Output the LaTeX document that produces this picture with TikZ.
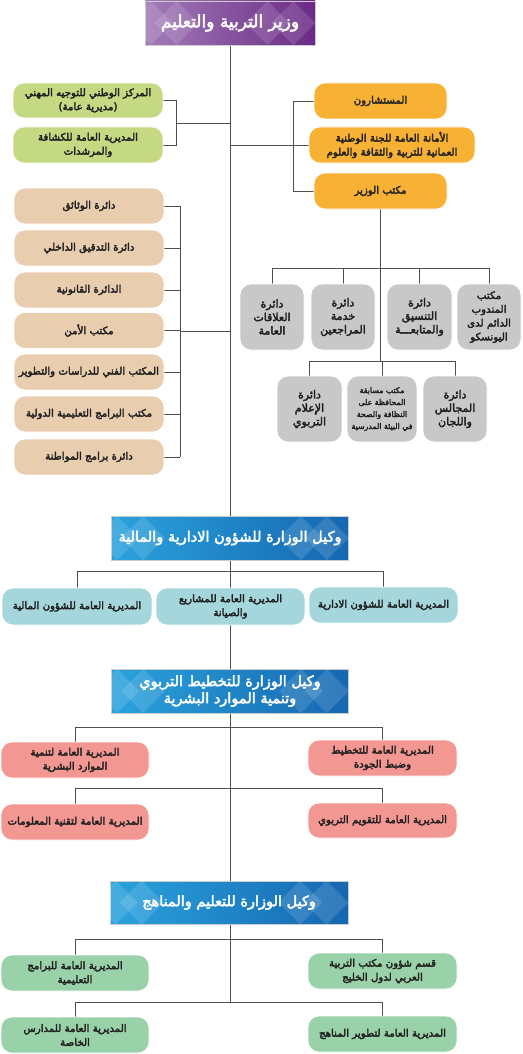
\documentclass[tikz,border=0pt]{standalone}
\usepackage{fontspec}
\newfontfamily\arfont[Script=Arabic,FakeBold=3]{DejaVu Sans}
\TeXXeTstate=1
\usetikzlibrary{calc}
\definecolor{linec}{HTML}{4F4F4F}
\definecolor{purL}{HTML}{A27CB8}
\definecolor{purR}{HTML}{6B2A86}
\definecolor{bluL}{HTML}{2AA2DC}
\definecolor{bluR}{HTML}{1567B1}
\definecolor{grnA}{HTML}{C4D982}
\definecolor{orgA}{HTML}{F7B134}
\definecolor{gryA}{HTML}{C8C8C8}
\definecolor{tanA}{HTML}{E8CDAF}
\definecolor{tealA}{HTML}{A4D6DB}
\definecolor{pinkA}{HTML}{F29792}
\definecolor{grnB}{HTML}{99D1A9}
\pgfdeclarelayer{bg}
\pgfsetlayers{bg,main}
\newcommand{\AR}[1]{\beginR #1\endR}
\newcommand{\tdeco}[1]{%
  \begin{scope}
  \clip (#1.north west) rectangle (#1.south east);
  \foreach \dx in {6,32} {\fill[white,opacity=.13] ($(#1.west)+(\dx,0)$) +(-22,0) -- +(0,-22) -- +(22,0) -- +(0,22) -- cycle;}
  \foreach \dx in {-48,-22} {\fill[white,opacity=.13] ($(#1.east)+(\dx,0)$) +(-22,0) -- +(0,-22) -- +(22,0) -- +(0,22) -- cycle;}
  \end{scope}}
\begin{document}
\begin{tikzpicture}[x=1pt,y=-1pt,
  wh/.style 2 args={minimum width=#1pt,minimum height=#2pt},
  box/.style={draw=white, line width=0.7pt, rounded corners=11pt, align=center,
    font=\arfont\fontsize{10.2}{14}\selectfont, text=black!88, inner sep=1pt},
  gbox/.style={box, fill=gryA, font=\arfont\fontsize{11}{13.5}\selectfont},
  title/.style={draw=white!80!black, line width=0.6pt, align=center, text=white,
    font=\arfont\fontsize{14.5}{17}\selectfont, inner sep=1pt},
  conn/.style={draw=linec, line width=0.9pt}]
\useasboundingbox (0,0) rectangle (522,1054);

% minister
\node[title, wh={170}{44}, left color=purL, right color=purR, font=\arfont\fontsize{17}{18}\selectfont] (m) at (230,23) {\AR{وزير التربية والتعليم}};
\tdeco{m}

% green left top
\node[box, fill=grnA, wh={150}{35}] (g1) at (88,100.5) {\AR{المركز الوطني للتوجيه المهني}\\\AR{(مديرية عامة)}};
\node[box, fill=grnA, wh={150}{36}] (g2) at (88,145) {\AR{المديرية العامة للكشافة}\\\AR{والمرشدات}};

% orange right
\node[box, fill=orgA, wh={133}{36}] (o1) at (380.5,101) {\AR{المستشارون}};
\node[box, fill=orgA, wh={166}{36}] (o2) at (392,145) {\AR{الأمانة العامة للجنة الوطنية}\\\AR{العمانية للتربية والثقافة والعلوم}};
\node[box, fill=orgA, wh={133}{36}] (o3) at (380.5,191) {\AR{مكتب الوزير}};

% gray row 1
\node[gbox, wh={64}{66}] (ga) at (272,317) {\AR{دائرة}\\\AR{العلاقات}\\\AR{العامة}};
\node[gbox, wh={64}{66}] (gb) at (343,317) {\AR{دائرة}\\\AR{خدمة}\\\AR{المراجعين}};
\node[gbox, wh={65}{66}] (gc) at (419.5,317) {\AR{دائرة}\\\AR{التنسيق}\\\AR{والمتابعـــة}};
\node[gbox, wh={64}{66}, font=\arfont\fontsize{10.3}{13.8}\selectfont] (gd) at (489,317) {\AR{مكتب}\\\AR{المندوب}\\\AR{الدائم لدى}\\\AR{اليونسكو}};
% gray row 2
\node[gbox, wh={65}{66}] (ge) at (309.5,409) {\AR{دائرة}\\\AR{الإعلام}\\\AR{التربوي}};
\node[gbox, wh={70}{66}, font=\arfont\fontsize{7.8}{12}\selectfont] (gf) at (382,409) {\AR{مكتب مسابقة}\\\AR{المحافظة على}\\\AR{النظافة والصحة}\\\AR{في البيئة المدرسية}};
\node[gbox, wh={64}{66}] (gg) at (455,409) {\AR{دائرة}\\\AR{المجالس}\\\AR{واللجان}};

% tan boxes
\node[box, fill=tanA, wh={150}{36}] (t1) at (89,206) {\AR{دائرة الوثائق}};
\node[box, fill=tanA, wh={150}{36}] (t2) at (89,248) {\AR{دائرة التدقيق الداخلي}};
\node[box, fill=tanA, wh={150}{36}] (t3) at (89,290) {\AR{الدائرة القانونية}};
\node[box, fill=tanA, wh={150}{36}] (t4) at (89,330.5) {\AR{مكتب الأمن}};
\node[box, fill=tanA, wh={150}{36}] (t5) at (89,372) {\AR{المكتب الفني للدراسات والتطوير}};
\node[box, fill=tanA, wh={150}{36}] (t6) at (89,414) {\AR{مكتب البرامج التعليمية الدولية}};
\node[box, fill=tanA, wh={150}{36}] (t7) at (89,457) {\AR{دائرة برامج المواطنة}};

% deputy 1
\node[title, wh={237}{44}, left color=bluL, right color=bluR] (b1) at (230,538) {\AR{وكيل الوزارة للشؤون الادارية والمالية}};
\tdeco{b1}
\node[box, fill=tealA, wh={150}{37}] (c1) at (77,606.5) {\AR{المديرية العامة للشؤون المالية}};
\node[box, fill=tealA, wh={149}{37}] (c2) at (230.5,606.5) {\AR{المديرية العامة للمشاريع}\\\AR{والصيانة}};
\node[box, fill=tealA, wh={149}{36}] (c3) at (383.5,605) {\AR{المديرية العامة للشؤون الادارية}};

% deputy 2
\node[title, wh={237}{44}, left color=bluL, right color=bluR] (b2) at (230,691) {\AR{وكيل الوزارة للتخطيط التربوي}\\\AR{وتنمية الموارد البشرية}};
\tdeco{b2}
\node[box, fill=pinkA, wh={148}{36}] (p1) at (75,760) {\AR{المديرية العامة لتنمية}\\\AR{الموارد البشرية}};
\node[box, fill=pinkA, wh={149}{36}] (p2) at (382.5,758) {\AR{المديرية العامة للتخطيط}\\\AR{وضبط الجودة}};
\node[box, fill=pinkA, wh={148}{36}] (p3) at (75,822) {\AR{المديرية العامة لتقنية المعلومات}};
\node[box, fill=pinkA, wh={149}{35}] (p4) at (382.5,820.5) {\AR{المديرية العامة للتقويم التربوي}};

% deputy 3
\node[title, wh={238}{43}, left color=bluL, right color=bluR] (b3) at (229,902.5) {\AR{وكيل الوزارة للتعليم والمناهج}};
\tdeco{b3}
\node[box, fill=grnB, wh={148}{36}] (q1) at (75,973) {\AR{المديرية العامة للبرامج}\\\AR{التعليمية}};
\node[box, fill=grnB, wh={149}{36}] (q2) at (382.5,971) {\AR{قسم شؤون مكتب التربية}\\\AR{العربي لدول الخليج}};
\node[box, fill=grnB, wh={148}{36}] (q3) at (75,1035) {\AR{المديرية العامة للمدارس}\\\AR{الخاصة}};
\node[box, fill=grnB, wh={149}{36}] (q4) at (382.5,1034) {\AR{المديرية العامة لتطوير المناهج}};

% connectors
\coordinate (trunkend) at (230,1002);
\coordinate (gj) at (176,123);
\coordinate (oj) at (293,0);
\coordinate (tj) at (180,331);
\begin{pgfonlayer}{bg}
\draw[conn] (m.south) -- (trunkend);
% green bracket
\draw[conn] (g1.east) -- (g1.east -| gj) -- (g2.east -| gj) -- (g2.east);
\draw[conn] (gj) -- (gj -| m.south);
% orange
\draw[conn] (o1.west) -- (o1.west -| oj) -- (o3.west -| oj) -- (o3.west);
\draw[conn] (o2.west -| m.south) -- (o2.west);
% office tree
\draw[conn] (o3.south) -- (o3.south |- 0,361);
\draw[conn] (ga.north) -- (ga.north |- 0,268) -- (gd.north |- 0,268) -- (gd.north);
\draw[conn] (gb.north) -- (gb.north |- 0,268);
\draw[conn] (gc.north) -- (gc.north |- 0,268);
\draw[conn] (ge.north) -- (ge.north |- 0,361) -- (gg.north |- 0,361) -- (gg.north);
\draw[conn] (gf.north) -- (gf.north |- 0,361);
% tan bracket
\draw[conn] (t1.east -| tj) -- (t7.east -| tj);
\foreach \t in {t1,t2,t3,t4,t5,t6,t7} {\draw[conn] (\t.east) -- (\t.east -| tj);}
\draw[conn] (tj) -- (tj -| m.south);
% deputy 1
\draw[conn] (c1.north) -- (c1.north |- 0,571) -- (c3.north |- 0,571) -- (c3.north);
% deputy 2
\draw[conn] (p1.north) -- (p1.north |- 0,727) -- (p2.north |- 0,727) -- (p2.north);
\draw[conn] (p3.north) -- (p3.north |- 0,788) -- (p4.north |- 0,788) -- (p4.north);
% deputy 3
\draw[conn] (q1.north) -- (q1.north |- 0,939) -- (q2.north |- 0,939) -- (q2.north);
\draw[conn] (q3.north) -- (q3.north |- 0,1002) -- (q4.north |- 0,1002) -- (q4.north);
\end{pgfonlayer}
\end{tikzpicture}
\end{document}
